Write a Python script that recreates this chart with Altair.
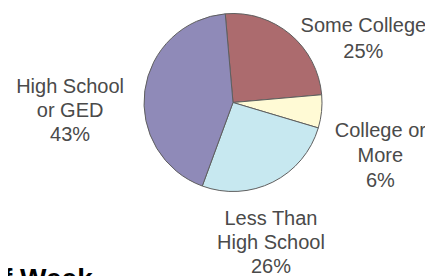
import math
import altair as alt
import pandas as pd

# ---- data ----
categories = ["Some College", "College or More", "Less Than High School", "High School or GED"]
shares = [25, 6, 26, 43]
label_text = ["Some College\n25%", "College or\nMore\n6%", "Less Than\nHigh School\n26%", "High School\nor GED\n43%"]
colors = ["#AC6B6E", "#FFFAD5", "#C7E8F0", "#8F8AB8"]
footer_text = "f Week"

# ---- layout / style ----
CX, CY, R = 225, 94.5, 89
LABEL_R = 125
label_offsets = [(50, 19), (23, 16), (-18, 5), (-39, 1)]
label_line_heights = [26, 25, 24, 24]
start = math.radians(-5)

df = pd.DataFrame({
    "category": categories,
    "share": shares,
    "label": label_text,
    "order": list(range(len(categories))),
})

theta_scale = alt.Scale(range=[start, start + 2 * math.pi])
base = alt.Chart(df).encode(
    theta=alt.Theta("share:Q", stack=True, scale=theta_scale),
    order=alt.Order("order:Q"),
)

pie = base.mark_arc(outerRadius=R, stroke="#5f5f5f", strokeWidth=1).encode(
    x=alt.value(CX),
    y=alt.value(CY),
    color=alt.Color("category:N", scale=alt.Scale(domain=categories, range=colors), legend=None),
)

layers = [pie]
for cat, (dx, dy), lh in zip(categories, label_offsets, label_line_heights):
    layers.append(
        base.mark_text(
            radius=LABEL_R, dx=dx, dy=dy, align="center", baseline="middle",
            lineBreak="\n", lineHeight=lh, font="Liberation Sans", fontSize=20, color="#4a4a4a",
        ).encode(
            x=alt.value(CX),
            y=alt.value(CY),
            text=alt.condition(alt.datum.category == cat, "label:N", alt.value("")),
        )
    )

footer = alt.Chart(pd.DataFrame({"t": [footer_text]})).mark_text(
    align="left", baseline="alphabetic", font="Liberation Sans", fontSize=28,
    fontWeight="bold", color="#000000",
).encode(x=alt.value(-5), y=alt.value(280), text="t:N")
layers.append(footer)

chart = alt.layer(*layers).properties(
    width=417, height=268, padding=0,
    autosize=alt.AutoSizeParams(type="none"),
).configure_view(stroke=None)

chart.save("out.html", embed_options={"renderer": "svg", "actions": False})
